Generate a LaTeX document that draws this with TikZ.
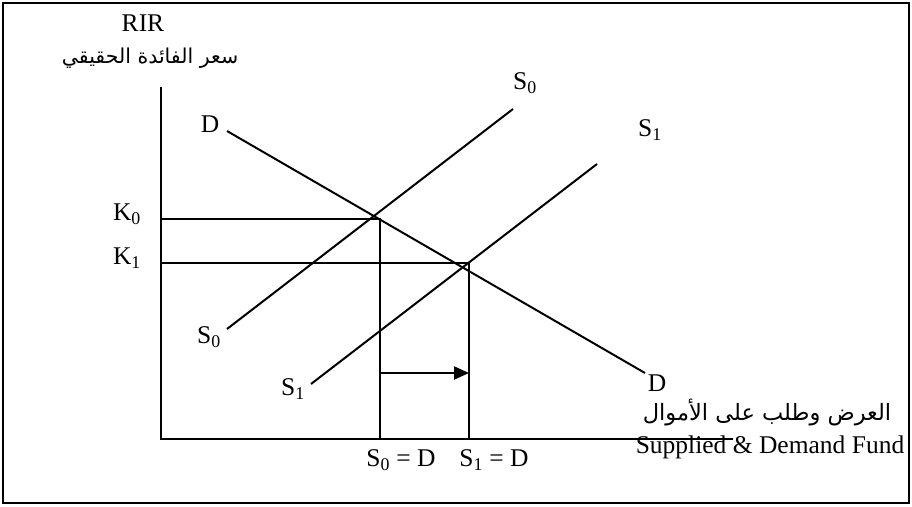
\documentclass[tikz,border=0pt]{standalone}
\usepackage{fontspec}
\setmainfont{Liberation Serif}
\newfontfamily\arabicfont[Script=Arabic]{DejaVu Sans}
\TeXXeTstate=1
\usetikzlibrary{arrows.meta}

\tikzset{
  curve/.style={line width=2pt},
  lbl/.style={font=\fontsize{25.5}{30}\selectfont, inner sep=0pt},
  arlbl/.style={font=\arabicfont\fontsize{#1}{#1}\selectfont, inner sep=0pt},
}

\begin{document}
\begin{tikzpicture}[x=1pt,y=-1pt]
  \useasboundingbox (0,0) rectangle (912,506);
  % Frame
  \draw[line width=2.6pt] (3,3) rectangle (909,503);

  % Axes
  \coordinate (origin) at (161,439);
  \coordinate (ytop) at (161,87);
  \coordinate (xend) at (733,439);
  \draw[curve] (ytop) -- (origin) -- (xend);
  \node[lbl] (rir) at (143,23) {RIR};
  \node[arlbl=20.5] (rirar) at (150,58) {\beginR سعر الفائدة الحقيقي\endR};
  \node[arlbl=22.5] (fundar) at (767,413) {\beginR العرض وطلب على الأموال\endR};
  \node[lbl] (fund) at (770,447) {Supplied \& Demand Fund};

  % Demand
  \coordinate (d0) at (227,131);
  \coordinate (d1) at (645,373);
  \draw[curve] (d0) -- (d1);
  \node[lbl] (dtop) at (210,124) {D};
  \node[lbl] (dbot) at (657,383) {D};

  % Supply before and after
  \coordinate (sa0) at (227,329);
  \coordinate (sa1) at (513,109);
  \draw[curve] (sa0) -- (sa1);
  \node[lbl] (satop) at (525,83) {S\textsubscript{0}};
  \node[lbl] (sabot) at (209,337) {S\textsubscript{0}};

  \coordinate (sb0) at (311,384);
  \coordinate (sb1) at (597,164);
  \draw[curve] (sb0) -- (sb1);
  \node[lbl] (sbtop) at (650,130) {S\textsubscript{1}};
  \node[lbl] (sbbot) at (293,389) {S\textsubscript{1}};

  % Equilibrium levels
  \coordinate (k0y) at (161,219);
  \coordinate (e0) at (380,219);
  \coordinate (q0) at (380,439);
  \draw[curve] (k0y) -- (e0) -- (q0);
  \node[lbl] (k0) at (127,214) {K\textsubscript{0}};

  \coordinate (k1y) at (161,263);
  \coordinate (e1) at (469,263);
  \coordinate (q1) at (469,439);
  \draw[curve] (k1y) -- (e1) -- (q1);
  \node[lbl] (k1) at (127,258) {K\textsubscript{1}};

  \node[lbl] (q0lbl) at (401,460) {S\textsubscript{0} = D};
  \node[lbl] (q1lbl) at (494,460) {S\textsubscript{1} = D};

  % Shift arrow
  \coordinate (sh0) at (380,373);
  \coordinate (sh1) at (469,373);
  \draw[curve, -{Triangle[length=15pt,width=13pt]}] (sh0) -- (sh1);
\end{tikzpicture}
\end{document}
